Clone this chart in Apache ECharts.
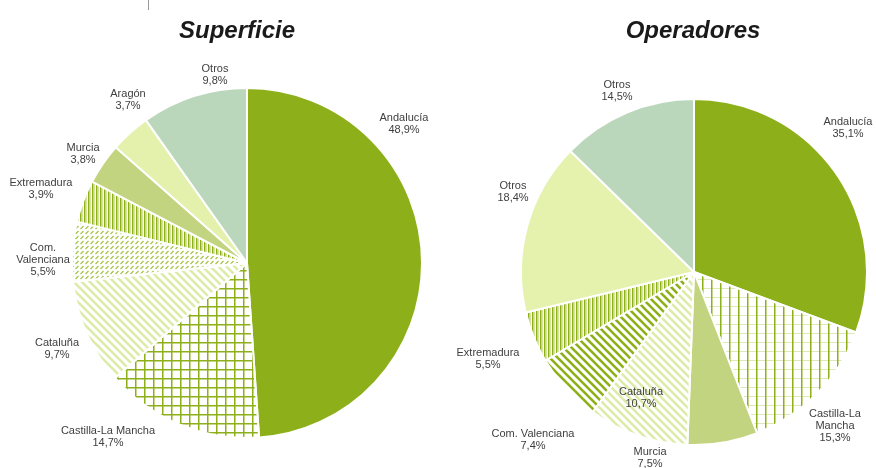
<!DOCTYPE html>
<html>
<head>
<meta charset="utf-8">
<script src="https://cdn.jsdelivr.net/npm/echarts@6/dist/echarts.min.js"></script>
<style>
  html, body { margin: 0; padding: 0; background: #fff; }
  #chart { width: 876px; height: 468px; }
</style>
</head>
<body>
<div id="chart"></div>
<script>
// Superficie (left pie), clockwise from 12 o'clock
const supNames = ['Andalucía', 'Castilla-La Mancha', 'Cataluña', 'Com. Valenciana', 'Extremadura', 'Murcia', 'Aragón', 'Otros']
const supValues = [48.9, 14.7, 9.7, 5.5, 3.9, 3.8, 3.7, 9.8]

// Operadores (right pie)
const opNames = ['Andalucía', 'Castilla-La Mancha', 'Murcia', 'Cataluña', 'Com. Valenciana', 'Extremadura', 'Otros', 'Otros']
const opValues = [35.1, 15.3, 7.5, 10.7, 7.4, 5.5, 18.4, 14.5]

const GREEN = '#8DB01A'

function tile(w, h, draw) {
  const c = document.createElement('canvas')
  c.width = w; c.height = h
  const ctx = c.getContext('2d')
  ctx.fillStyle = '#fff'; ctx.fillRect(0, 0, w, h)
  draw(ctx, w, h)
  return { image: c, repeat: 'repeat' }
}
function diag(ctx, s, color, lw, down) {
  ctx.strokeStyle = color; ctx.lineWidth = lw
  for (const k of [-s, 0, s]) {
    ctx.beginPath()
    if (down) { ctx.moveTo(k - 2, -2); ctx.lineTo(k + s + 2, s + 2) }
    else { ctx.moveTo(k - 2, s + 2); ctx.lineTo(k + s + 2, -2) }
    ctx.stroke()
  }
}

const pat = {
  grid: tile(9, 9, (ctx) => { ctx.fillStyle = GREEN; ctx.fillRect(0, 0, 1.5, 9); ctx.fillRect(0, 0, 9, 1.5) }),
  gridLight: tile(9, 9, (ctx) => { ctx.fillStyle = '#DCE8B6'; ctx.fillRect(0, 0, 9, 1); ctx.fillStyle = GREEN; ctx.fillRect(0, 0, 1.5, 9) }),
  stripesLight: tile(8, 8, (ctx, s) => diag(ctx, s, '#DDEBA9', 2.6, true)),
  dashes: tile(5, 5, (ctx) => {
    ctx.strokeStyle = '#A6C447'; ctx.lineWidth = 1.2
    ctx.beginPath(); ctx.moveTo(0.5, 4); ctx.lineTo(3.5, 1); ctx.stroke()
  }),
  stripesDark: tile(8, 8, (ctx, s) => diag(ctx, s, GREEN, 2.6, true)),
  vlines: tile(4, 4, (ctx) => { ctx.fillStyle = GREEN; ctx.fillRect(0, 0, 1.5, 4); ctx.fillStyle = '#D6E4A2'; ctx.fillRect(2, 0, 1, 4) })
}

const supColors = ['#8DB01A', pat.grid, pat.stripesLight, pat.dashes, pat.vlines, '#C3D480', '#E4F1AD', '#BBD7BB']
const opColors = ['#8DB01A', pat.gridLight, '#C3D480', pat.stripesLight, pat.stripesDark, pat.vlines, '#E4F2AE', '#BBD7BB']

// label anchor points (text centres)
const supLabelPos = [[404, 124], [108, 437], [57, 349], [43, 260], [41, 189], [83, 154], [128, 100], [215, 75]]
const opLabelPos = [[848, 128], [835, 426], [650, 458], [641, 398], [533, 440], [488, 359], [513, 192], [617, 91]]

const fmt = (wrap) => (p) => (wrap[p.name] || p.name) + '\n' + p.value.toFixed(1).replace('.', ',') + '%'

function pieSeries(names, values, colors, center, radius, labelPos, wrap) {
  return {
    type: 'pie', center, radius, startAngle: 90, clockwise: true,
    animation: false, silent: true, avoidLabelOverlap: false,
    itemStyle: { borderColor: '#fff', borderWidth: 2 },
    label: {
      show: true, position: 'outside', formatter: fmt(wrap), overflow: 'none',
      color: '#404040', fontSize: 11, lineHeight: 12, align: 'center',
      fontFamily: 'Liberation Sans, Arial, sans-serif'
    },
    labelLine: { show: false },
    labelLayout: (params) => {
      const p = labelPos[params.dataIndex]
      return { x: p[0], y: p[1], align: 'center', verticalAlign: 'middle', hideOverlap: false, moveOverlap: null }
    },
    data: names.map((n, i) => ({ name: n, value: values[i], itemStyle: { color: colors[i] } }))
  }
}

const chart = echarts.init(document.getElementById('chart'), null, { renderer: 'canvas' })
chart.setOption({
  backgroundColor: '#fff',
  title: [
    { text: 'Superficie', left: 232, top: 14, textAlign: 'center',
      textStyle: { fontSize: 24, fontWeight: 'bold', fontStyle: 'italic', color: '#1a1a1a', fontFamily: 'Liberation Sans, Arial, sans-serif' } },
    { text: 'Operadores', left: 688, top: 14, textAlign: 'center',
      textStyle: { fontSize: 24, fontWeight: 'bold', fontStyle: 'italic', color: '#1a1a1a', fontFamily: 'Liberation Sans, Arial, sans-serif' } }
  ],
  graphic: [{ type: 'line', shape: { x1: 148.5, y1: 0, x2: 148.5, y2: 10 }, style: { stroke: '#999', lineWidth: 1 } }],
  series: [
    pieSeries(supNames, supValues, supColors, [247, 263], 175, supLabelPos, { 'Com. Valenciana': 'Com.\nValenciana' }),
    pieSeries(opNames, opValues, opColors, [694, 272], 173, opLabelPos, { 'Castilla-La Mancha': 'Castilla-La\nMancha' })
  ]
})
</script>
</body>
</html>
